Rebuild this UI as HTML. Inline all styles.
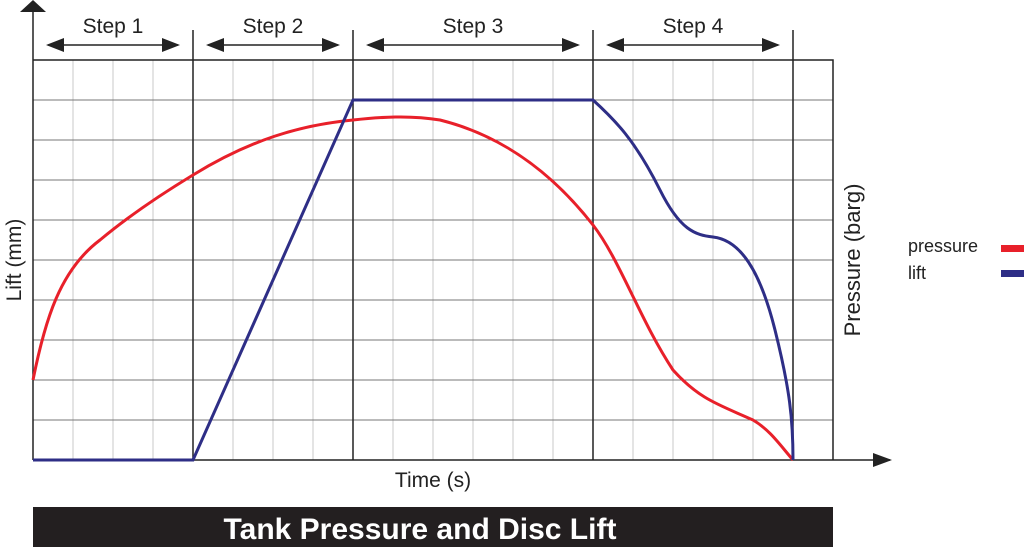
<!DOCTYPE html>
<html><head><style>body{margin:0;background:#fff}svg{display:block}</style></head><body>
<svg width="1024" height="547" xmlns="http://www.w3.org/2000/svg" font-family="Liberation Sans, sans-serif">
<g stroke="#c8c8c8" stroke-width="1">
<path d="M73 60V460M113 60V460M153 60V460M233 60V460M273 60V460M313 60V460M393 60V460M433 60V460M473 60V460M513 60V460M553 60V460M633 60V460M673 60V460M713 60V460M753 60V460"/>
</g>
<g stroke="#777" stroke-width="1">
<path d="M33 100H833M33 140H833M33 180H833M33 220H833M33 260H833M33 300H833M33 340H833M33 380H833M33 420H833"/>
</g>
<g stroke="#222" stroke-width="1.5" fill="none">
<path d="M33 60H833V460"/>
<path d="M193 30V460M353 30V460M593 30V460M793 30V460"/>
<path d="M33 460V5"/><path d="M20 12L33 0L46 12" fill="#222" stroke="none"/>
<path d="M33 460H890"/><path d="M873 453L892 460L873 467z" fill="#222" stroke="none"/>
<path d="M48 45H178M208 45H338M368 45H578M608 45H778"/>
<path d="M46 45L64 38V52zM180 45L162 38V52zM206 45L224 38V52zM340 45L322 38V52zM366 45L384 38V52zM580 45L562 38V52zM606 45L624 38V52zM780 45L762 38V52z" fill="#222" stroke="none"/>
</g>
<g font-size="21" fill="#222" text-anchor="middle">
<text x="113" y="33">Step 1</text><text x="273" y="33">Step 2</text><text x="473" y="33">Step 3</text><text x="693" y="33">Step 4</text>
<text x="433" y="487">Time (s)</text>
<text transform="translate(21,260) rotate(-90)">Lift (mm)</text>
<text font-size="22" transform="translate(860,260) rotate(-90)">Pressure (barg)</text>
</g>
<path d="M33 380C45 320 60 270 100 240C130 215 160 195 193 175C250 140 300 125 353 120C380 117 410 115 440 120C500 135 550 170 593 225C620 260 640 320 673 370C700 400 720 405 753 420C770 430 780 445 793 460" fill="none" stroke="#e8202a" stroke-width="3"/>
<path d="M33 460H193L353 100H593C615 120 635 140 660 190C680 230 695 235 713 237C740 240 760 270 775 330C790 390 793 420 793 460" fill="none" stroke="#2e2e86" stroke-width="3"/>
<g font-size="18" fill="#222"><text x="908" y="252">pressure</text><text x="908" y="279">lift</text></g>
<rect x="1001" y="245" width="23" height="7" fill="#e8202a"/><rect x="1001" y="270" width="23" height="7" fill="#2e2e86"/>
<rect x="33" y="507" width="800" height="40" fill="#231f20"/>
<text x="420" y="539" font-size="30" font-weight="bold" fill="#fff" text-anchor="middle">Tank Pressure and Disc Lift</text>
</svg>
</body></html>
